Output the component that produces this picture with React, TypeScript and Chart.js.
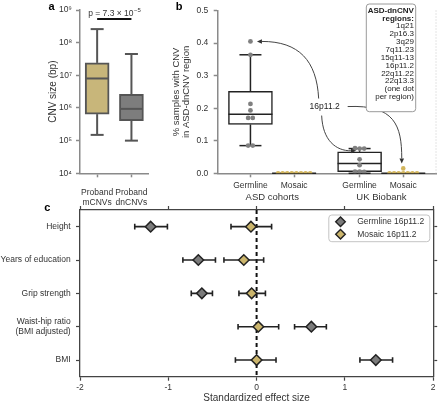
import React, { useEffect, useRef } from 'react';
import { Chart, registerables } from 'chart.js';

Chart.register(...registerables);

const FONT = "'Liberation Sans', Arial, Helvetica, sans-serif";
const TEXT = '#333333';
const AXIS = '#8a8a8a';
const TAN_BOX = '#c8b67a';
const GRAY_BOX = '#7d7d7d';
const TAN_DOT = '#d2b55c';
const GRAY_DOT = '#808080';
const GRAY_DIAMOND = '#7b7b7b';
const TAN_DIAMOND = '#cbb56c';

// ---------- panel a ----------
const aCategories = [['Proband', 'mCNVs'], ['Proband', 'dnCNVs']];
const aWhiskerLow = [1.5e5, 1.0e5];
const aQ1 = [6.5e5, 4.1e5];
const aMedian = [8.0e6, 9.4e5];
const aQ3 = [2.4e7, 2.6e6];
const aWhiskerHigh = [2.6e8, 4.5e7];
const aTickValues = [1e4, 1e5, 1e6, 1e7, 1e8, 1e9];
const aTickLabels = ['10⁴', '10⁵', '10⁶', '10⁷', '10⁸', '10⁹'];
const aPValueBase = 'p = 7.3 × 10';
const aPValueExp = '−5';

// ---------- panel b ----------
const bCategories = ['Germline', 'Mosaic', 'Germline', 'Mosaic'];
const bPositions = [0, 1, 2.5, 3.5];
const bGroups = ['ASD cohorts', 'UK Biobank'];
const bGroupCenters = [0.5, 3.0];
const bWhiskerLow = [0.085, 0, 0, 0];
const bQ1 = [0.15, 0, 0.005, 0];
const bMedian = [0.181, 0, 0.03, 0];
const bQ3 = [0.252, 0, 0.066, 0];
const bWhiskerHigh = [0.364, 0, 0.076, 0];
const bAsdGermline = [0.405, 0.364, 0.213, 0.193, 0.17, 0.17, 0.085, 0.085];
const bAsdMosaic = [0, 0, 0, 0, 0, 0, 0, 0];
const bUkGermline = [0.077, 0.076, 0.076, 0.043, 0.025, 0.005, 0.005, 0.004];
const bUkMosaic = [0.015, 0, 0, 0, 0, 0, 0, 0];
const b16pLabel = '16p11.2';
const b16pValues = [0.405, 0.077, 0.015]; // ASD germline, UK germline, UK mosaic
const bRegionsTitle = ['ASD-dnCNV', 'regions:'];
const bRegions = ['1q21', '2p16.3', '3q29', '7q11.23', '15q11-13', '16p11.2', '22q11.22', '22q13.3', '(one dot', 'per region)'];

// ---------- panel c ----------
const cTraits = ['Height', 'Years of education', 'Grip strength', ['Waist-hip ratio', '(BMI adjusted)'], 'BMI'];
const cGermEst = [-1.2, -0.66, -0.62, 0.62, 1.35];
const cGermLo = [-1.38, -0.835, -0.74, 0.43, 1.17];
const cGermHi = [-1.01, -0.466, -0.5, 0.79, 1.54];
const cMosEst = [-0.064, -0.145, -0.056, 0.02, 0.0];
const cMosLo = [-0.29, -0.37, -0.2, -0.21, -0.24];
const cMosHi = [0.17, 0.08, 0.1, 0.25, 0.22];
const cSeries = ['Germline 16p11.2', 'Mosaic 16p11.2'];

function swarm(values: number[], center: number, tol = 0.012, step = 0.105) {
  const sorted = values.map((v, i) => ({ v, i })).sort((a, b) => b.v - a.v);
  const groups: { v: number; i: number }[][] = [];
  for (const p of sorted) {
    const g = groups[groups.length - 1];
    if (g && Math.abs(g[0].v - p.v) <= tol) g.push(p);
    else groups.push([p]);
  }
  const out: { x: number; y: number }[] = [];
  for (const g of groups) g.forEach((p, k) => out.push({ x: center + (k - (g.length - 1) / 2) * step, y: p.v }));
  return out;
}

function seg(ctx: CanvasRenderingContext2D, x1: number, y1: number, x2: number, y2: number) {
  ctx.beginPath();
  ctx.moveTo(x1, y1);
  ctx.lineTo(x2, y2);
  ctx.stroke();
}

function roundRect(ctx: CanvasRenderingContext2D, x: number, y: number, w: number, h: number, r: number) {
  ctx.beginPath();
  ctx.moveTo(x + r, y);
  ctx.arcTo(x + w, y, x + w, y + h, r);
  ctx.arcTo(x + w, y + h, x, y + h, r);
  ctx.arcTo(x, y + h, x, y, r);
  ctx.arcTo(x, y, x + w, y, r);
  ctx.closePath();
}

function arrow(ctx: CanvasRenderingContext2D, s: number[], c1: number[], c2: number[], e: number[]) {
  const ang = Math.atan2(e[1] - c2[1], e[0] - c2[0]);
  const L = 5, W = 2.3;
  const bx = e[0] - L * Math.cos(ang), by = e[1] - L * Math.sin(ang);
  ctx.beginPath();
  ctx.moveTo(s[0], s[1]);
  ctx.bezierCurveTo(c1[0], c1[1], c2[0], c2[1], bx, by);
  ctx.stroke();
  ctx.beginPath();
  ctx.moveTo(e[0], e[1]);
  ctx.lineTo(bx + W * Math.sin(ang), by - W * Math.cos(ang));
  ctx.lineTo(bx - W * Math.sin(ang), by + W * Math.cos(ang));
  ctx.closePath();
  ctx.fill();
}

const baseOpts = {
  responsive: false,
  animation: false as const,
  devicePixelRatio: 1,
  events: [] as any[],
};

function makeA(canvas: HTMLCanvasElement) {
  const plugin = {
    id: 'panelA',
    afterDatasetsDraw(chart: any) {
      const { ctx, scales: { x, y }, chartArea } = chart;
      ctx.save();
      ctx.strokeStyle = '#555';
      ctx.lineWidth = 2;
      const half = 12, cap = 6.5;
      aCategories.forEach((_, i) => {
        const cx = x.getPixelForValue(i);
        const ym = y.getPixelForValue(aMedian[i]);
        seg(ctx, cx - half + 1, ym, cx + half - 1, ym);
        const yq3 = y.getPixelForValue(aQ3[i]);
        const yh = y.getPixelForValue(aWhiskerHigh[i]);
        seg(ctx, cx, yq3, cx, yh);
        seg(ctx, cx - cap, yh, cx + cap, yh);
        const yq1 = y.getPixelForValue(aQ1[i]);
        const yl = y.getPixelForValue(aWhiskerLow[i]);
        seg(ctx, cx, yq1, cx, yl);
        seg(ctx, cx - cap, yl, cx + cap, yl);
      });
      const x0 = x.getPixelForValue(0), x1 = x.getPixelForValue(1);
      const yb = chartArea.top + 9;
      ctx.strokeStyle = '#111';
      ctx.lineWidth = 2;
      seg(ctx, x0, yb, x1, yb);
      ctx.fillStyle = TEXT;
      ctx.textBaseline = 'alphabetic';
      ctx.textAlign = 'left';
      ctx.font = `8.5px ${FONT}`;
      const w1 = ctx.measureText(aPValueBase).width;
      ctx.font = `6px ${FONT}`;
      const w2 = ctx.measureText(aPValueExp).width;
      const start = (x0 + x1) / 2 - (w1 + w2) / 2;
      ctx.font = `8.5px ${FONT}`;
      ctx.fillText(aPValueBase, start, yb - 3.5);
      ctx.font = `6px ${FONT}`;
      ctx.fillText(aPValueExp, start + w1 + 0.5, yb - 7.5);
      ctx.fillStyle = '#000';
      ctx.font = `bold 11px ${FONT}`;
      ctx.fillText('a', 48.5, 9.5);
      ctx.restore();
    },
  };
  return new Chart(canvas, {
    type: 'bar',
    data: {
      labels: aCategories as any,
      datasets: [
        {
          data: aQ1.map((q, i) => [q, aQ3[i]]) as any,
          backgroundColor: [TAN_BOX, GRAY_BOX],
          borderColor: '#555',
          borderWidth: 2,
          borderSkipped: false,
          barThickness: 24,
        },
      ],
    },
    options: {
      ...baseOpts,
      layout: { padding: { left: 47, top: 10, right: 8, bottom: 0 } },
      plugins: { legend: { display: false }, tooltip: { enabled: false } },
      scales: {
        x: {
          type: 'category',
          offset: true,
          grid: { display: true, drawOnChartArea: false, offset: false, tickLength: 4, color: AXIS, tickWidth: 1.5 },
          border: { color: AXIS, width: 1.5 },
          ticks: { font: { family: FONT, size: 8.5, lineHeight: 1.2 }, color: TEXT, padding: 10.5, maxRotation: 0, autoSkip: false },
          afterFit: (s: any) => { s.height = 36.7; },
        },
        y: {
          type: 'logarithmic',
          min: 1e4,
          max: 1e9,
          afterBuildTicks: (s: any) => { s.ticks = aTickValues.map((v) => ({ value: v })); },
          grid: { display: true, drawOnChartArea: false, tickLength: 4, color: AXIS, tickWidth: 1.5 },
          border: { color: AXIS, width: 1.5 },
          ticks: {
            font: { family: FONT, size: 8.5 },
            color: TEXT,
            padding: 4,
            autoSkip: false,
            callback: (_v: any, i: number) => aTickLabels[i],
          },
          title: { display: true, text: 'CNV size (bp)', font: { family: FONT, size: 10, lineHeight: 1.2 }, color: TEXT, padding: 0 },
          afterFit: (s: any) => { s.width = 33; },
        },
      },
    } as any,
    plugins: [plugin],
  });
}

function makeB(canvas: HTMLCanvasElement) {
  const grayPts = [...swarm(bAsdGermline, bPositions[0]), ...swarm(bUkGermline, bPositions[2])];
  const tanPts = [...swarm(bAsdMosaic, bPositions[1]), ...swarm(bUkMosaic, bPositions[3])];
  const BAR_INDEX = 2;
  const plugin = {
    id: 'panelB',
    afterDatasetDraw(chart: any, args: any) {
      if (args.index !== BAR_INDEX) return;
      const { ctx, scales: { x, y } } = chart;
      ctx.save();
      ctx.strokeStyle = '#222';
      ctx.lineWidth = 1.5;
      const half = 22, cap = 11;
      bPositions.forEach((p, i) => {
        const cx = x.getPixelForValue(p);
        const ym = y.getPixelForValue(bMedian[i]);
        seg(ctx, cx - half, ym, cx + half, ym);
        const yq3 = y.getPixelForValue(bQ3[i]);
        const yh = y.getPixelForValue(bWhiskerHigh[i]);
        if (yh < yq3) {
          seg(ctx, cx, yq3, cx, yh);
          seg(ctx, cx - cap, yh, cx + cap, yh);
        }
        const yq1 = y.getPixelForValue(bQ1[i]);
        const yl = y.getPixelForValue(bWhiskerLow[i]);
        if (yl > yq1) {
          seg(ctx, cx, yq1, cx, yl);
          seg(ctx, cx - cap, yl, cx + cap, yl);
        }
      });
      ctx.restore();
    },
    afterDraw(chart: any) {
      const { ctx, scales: { x, y }, chartArea: ca } = chart;
      ctx.save();
      // faint dotted right edge
      ctx.strokeStyle = '#c8c8c8';
      ctx.lineWidth = 1;
      ctx.setLineDash([1, 2]);
      seg(ctx, ca.right, ca.top, ca.right, ca.bottom);
      ctx.setLineDash([]);
      // group labels
      ctx.fillStyle = TEXT;
      ctx.font = `9.5px ${FONT}`;
      ctx.textAlign = 'center';
      ctx.textBaseline = 'middle';
      bGroups.forEach((g, i) => ctx.fillText(g, x.getPixelForValue(bGroupCenters[i]), 197.5));
      // 16p11.2 label + arrows
      const L = [x.getPixelForValue(1.7), y.getPixelForValue(0.205)];
      ctx.fillStyle = '#222';
      ctx.font = `8.5px ${FONT}`;
      ctx.fillText(b16pLabel, L[0], L[1]);
      ctx.strokeStyle = '#444';
      ctx.fillStyle = '#333';
      ctx.lineWidth = 1;
      const t1 = [x.getPixelForValue(bPositions[0]), y.getPixelForValue(b16pValues[0])];
      const t2 = [x.getPixelForValue(bPositions[2]), y.getPixelForValue(b16pValues[1])];
      const t3 = [x.getPixelForValue(bPositions[3]), y.getPixelForValue(b16pValues[2])];
      {
        const E = [t1[0] + 6.5, t1[1]];
        const S = [L[0] - 6, L[1] - 8];
        arrow(ctx, S, [S[0] - 2, S[1] - 38], [E[0] + 42, E[1]], E);
      }
      {
        const E = [t2[0] - 3.6, t2[1] + 2.6];
        const S = [L[0] - 3, L[1] + 9];
        arrow(ctx, S, [S[0] + 1, S[1] + 25], [E[0] - 20, E[1]], E);
      }
      {
        const E = [t3[0] - 1.5, t3[1] - 5];
        const S = [L[0] + 23, L[1]];
        arrow(ctx, S, [S[0] + 47, S[1] - 2], [E[0], E[1] - 38], E);
      }
      // regions box
      const right = ca.right - 20.3;
      const left = right - 49.4;
      const top = 4;
      const h = 107.7;
      roundRect(ctx, left, top, right - left, h, 3);
      ctx.fillStyle = '#fff';
      ctx.fill();
      ctx.strokeStyle = '#9a9a9a';
      ctx.lineWidth = 1;
      ctx.stroke();
      ctx.fillStyle = '#222';
      ctx.textAlign = 'right';
      ctx.textBaseline = 'middle';
      const lines = [...bRegionsTitle, ...bRegions];
      lines.forEach((t, i) => {
        ctx.font = i < bRegionsTitle.length ? `bold 8px ${FONT}` : `8px ${FONT}`;
        ctx.fillText(t, right - 1.8, 10.5 + i * 7.85);
      });
      // panel letter
      ctx.fillStyle = '#000';
      ctx.font = `bold 11px ${FONT}`;
      ctx.textAlign = 'left';
      ctx.textBaseline = 'alphabetic';
      ctx.fillText('b', 15.7, 9.5);
      ctx.restore();
    },
  };
  return new Chart(canvas, {
    type: 'bar',
    data: {
      datasets: [
        { type: 'scatter', data: grayPts, pointRadius: 2.4, pointBackgroundColor: GRAY_DOT, pointBorderWidth: 0, borderWidth: 0 } as any,
        { type: 'scatter', data: tanPts, pointRadius: 2.3, pointBackgroundColor: TAN_DOT, pointBorderWidth: 0, borderWidth: 0 } as any,
        {
          type: 'bar',
          data: bPositions.map((p, i) => ({ x: p, y: [bQ1[i], bQ3[i]] })),
          backgroundColor: '#ffffff',
          borderColor: '#222',
          borderWidth: 1.5,
          borderSkipped: false,
          barThickness: 44,
        } as any,
      ],
    },
    options: {
      ...baseOpts,
      layout: { padding: { left: 11.5, top: 9.3, right: 3, bottom: 0 } },
      plugins: { legend: { display: false }, tooltip: { enabled: false } },
      scales: {
        x: {
          type: 'linear',
          min: -0.75,
          max: 4.25,
          offset: false,
          afterBuildTicks: (s: any) => { s.ticks = bPositions.map((v) => ({ value: v })); },
          grid: { display: true, drawOnChartArea: false, offset: false, tickLength: 4, color: AXIS, tickWidth: 1.5 },
          border: { color: AXIS, width: 1.5 },
          ticks: {
            font: { family: FONT, size: 8.5, lineHeight: 1.2 },
            color: TEXT,
            padding: 3.6,
            maxRotation: 0,
            autoSkip: false,
            callback: (_v: any, i: number) => bCategories[i],
          },
          afterFit: (s: any) => { s.height = 36.7; },
        },
        y: {
          type: 'linear',
          min: 0,
          max: 0.5,
          beginAtZero: true,
          grid: { display: true, drawOnChartArea: false, tickLength: 4, color: AXIS, tickWidth: 1.5 },
          border: { color: AXIS, width: 1.5 },
          ticks: { stepSize: 0.1, font: { family: FONT, size: 8.5 }, color: TEXT, padding: 5.4, callback: (v: any) => Number(v).toFixed(1) },
          title: {
            display: true,
            text: ['% samples with CNV', 'in ASD-dnCNV region'],
            font: { family: FONT, size: 9.5, lineHeight: 1.05 },
            color: TEXT,
            padding: 0,
          },
          afterFit: (s: any) => { s.width = 46.2; },
        },
      },
    } as any,
    plugins: [plugin],
  });
}

function makeC(canvas: HTMLCanvasElement) {
  const FRAME = '#444';
  const colors = [GRAY_DIAMOND, TAN_DIAMOND];
  const errorSets: any[] = [];
  const addErr = (lo: number[], hi: number[]) =>
    lo.forEach((l, i) =>
      errorSets.push({
        type: 'scatter',
        data: [{ x: l, y: i }, { x: hi[i], y: i }],
        showLine: true,
        borderColor: '#222',
        borderWidth: 1.6,
        pointStyle: 'line',
        pointRotation: 90,
        pointRadius: 2.8,
        pointBorderColor: '#222',
        pointBorderWidth: 1.6,
      })
    );
  addErr(cGermLo, cGermHi);
  addErr(cMosLo, cMosHi);
  const plugin = {
    id: 'panelC',
    afterDraw(chart: any) {
      const { ctx, chartArea: ca } = chart;
      ctx.save();
      const boxR = ca.right - 3.4;
      const boxL = boxR - 101;
      const boxT = ca.top + 5;
      roundRect(ctx, boxL, boxT, boxR - boxL, 26.7, 3);
      ctx.fillStyle = '#fff';
      ctx.fill();
      ctx.strokeStyle = '#c4c4c4';
      ctx.lineWidth = 1;
      ctx.stroke();
      cSeries.forEach((label, k) => {
        const cx = boxL + 11.7;
        const cy = boxT + 6.7 + k * 12.6;
        const r = 4.8;
        ctx.beginPath();
        ctx.moveTo(cx - r, cy);
        ctx.lineTo(cx, cy - r);
        ctx.lineTo(cx + r, cy);
        ctx.lineTo(cx, cy + r);
        ctx.closePath();
        ctx.fillStyle = colors[k];
        ctx.fill();
        ctx.strokeStyle = '#222';
        ctx.lineWidth = 1.4;
        ctx.stroke();
        ctx.fillStyle = TEXT;
        ctx.font = `8.5px ${FONT}`;
        ctx.textAlign = 'left';
        ctx.textBaseline = 'middle';
        ctx.fillText(label, boxL + 28.4, cy);
      });
      ctx.fillStyle = '#000';
      ctx.font = `bold 11px ${FONT}`;
      ctx.textAlign = 'left';
      ctx.textBaseline = 'alphabetic';
      ctx.fillText('c', 44.3, 15);
      ctx.restore();
    },
  };
  const gridOpts = { display: true, drawOnChartArea: false, tickLength: 4, color: FRAME, tickWidth: 1.2 };
  const borderOpts = { color: FRAME, width: 1.3 };
  return new Chart(canvas, {
    type: 'scatter',
    data: {
      datasets: [
        {
          label: cSeries[0],
          data: cGermEst.map((v, i) => ({ x: v, y: i })),
          pointStyle: 'rectRot',
          pointRadius: 5.3,
          pointBackgroundColor: GRAY_DIAMOND,
          pointBorderColor: '#222',
          pointBorderWidth: 1.5,
        },
        {
          label: cSeries[1],
          data: cMosEst.map((v, i) => ({ x: v, y: i })),
          pointStyle: 'rectRot',
          pointRadius: 5.3,
          pointBackgroundColor: TAN_DIAMOND,
          pointBorderColor: '#222',
          pointBorderWidth: 1.5,
        },
        ...errorSets,
        {
          type: 'scatter',
          data: [{ x: 0, y: -0.5 }, { x: 0, y: 4.5 }],
          showLine: true,
          borderColor: '#111',
          borderWidth: 2,
          borderDash: [4, 3],
          pointRadius: 0,
        },
      ] as any,
    },
    options: {
      ...baseOpts,
      layout: { padding: { left: 0, top: 0, right: 0, bottom: 0 } },
      plugins: { legend: { display: false }, tooltip: { enabled: false } },
      scales: {
        x: {
          type: 'linear',
          position: 'bottom',
          min: -2,
          max: 2,
          grid: gridOpts,
          border: borderOpts,
          ticks: { stepSize: 1, font: { family: FONT, size: 8.5, lineHeight: 1.2 }, color: TEXT, padding: 2.2 },
          title: { display: true, text: 'Standardized effect size', font: { family: FONT, size: 10, lineHeight: 1 }, color: TEXT, padding: 0 },
          afterFit: (s: any) => { s.height = 26.3; },
        },
        x2: {
          type: 'linear',
          axis: 'x',
          position: 'top',
          min: -2,
          max: 2,
          grid: gridOpts,
          border: borderOpts,
          ticks: { stepSize: 1, display: false },
          afterFit: (s: any) => { s.height = 14; },
        },
        y: {
          type: 'linear',
          position: 'left',
          min: -0.5,
          max: 4.5,
          reverse: true,
          afterBuildTicks: (s: any) => { s.ticks = cTraits.map((_, i) => ({ value: i })); },
          grid: gridOpts,
          border: borderOpts,
          ticks: {
            font: { family: FONT, size: 8.5, lineHeight: 1.2 },
            color: TEXT,
            padding: 5.3,
            autoSkip: false,
            callback: (_v: any, i: number) => cTraits[i] as any,
          },
          afterFit: (s: any) => { s.width = 80; },
        },
        y2: {
          type: 'linear',
          axis: 'y',
          position: 'right',
          min: -0.5,
          max: 4.5,
          reverse: true,
          afterBuildTicks: (s: any) => { s.ticks = cTraits.map((_, i) => ({ value: i })); },
          grid: gridOpts,
          border: borderOpts,
          ticks: { display: false },
          afterFit: (s: any) => { s.width = 2.3; },
        },
      },
    } as any,
    plugins: [plugin],
  });
}

export default function App() {
  const aRef = useRef<HTMLCanvasElement>(null);
  const bRef = useRef<HTMLCanvasElement>(null);
  const cRef = useRef<HTMLCanvasElement>(null);
  useEffect(() => {
    Chart.defaults.font.family = FONT;
    const charts = [makeA(aRef.current!), makeB(bRef.current!), makeC(cRef.current!)];
    return () => charts.forEach((c) => c.destroy());
  }, []);
  return (
    <div style={{ position: 'fixed', left: 0, top: 0, width: 440, height: 403, background: '#fff', overflow: 'hidden' }}>
      <canvas ref={aRef} width={160} height={210} style={{ position: 'absolute', left: 0, top: 0 }} />
      <canvas ref={bRef} width={280} height={210} style={{ position: 'absolute', left: 160, top: 0 }} />
      <canvas ref={cRef} width={440} height={207} style={{ position: 'absolute', left: 0, top: 196 }} />
    </div>
  );
}
